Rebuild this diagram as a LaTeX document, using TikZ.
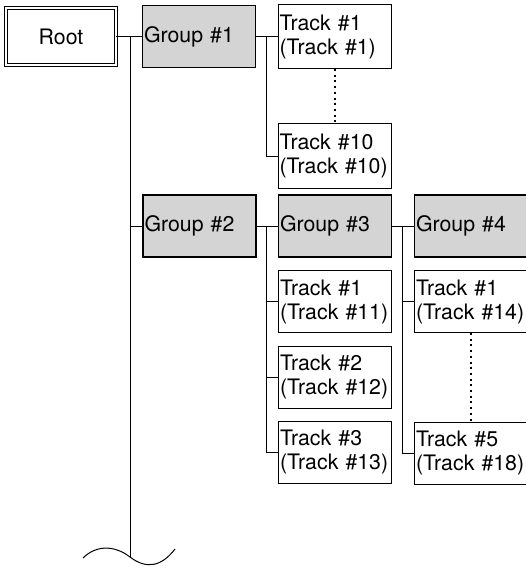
\documentclass[tikz,border=0pt]{standalone}
\usepackage{fontspec}
\setmainfont{TeX Gyre Heros}
\usetikzlibrary{positioning}
\definecolor{groupgray}{gray}{0.83}

\begin{document}
\begin{tikzpicture}[
    x=1pt, y=-1pt,
    font=\fontsize{21.3}{24}\selectfont,
    box/.style={draw, minimum height=62pt, inner xsep=1.5pt, inner ysep=0pt, text width=110pt, align=left},
    rootbox/.style={draw, double, double distance=2.5pt, line width=0.9pt, minimum width=110pt, minimum height=57pt},
    groupbox/.style={box, fill=groupgray, line width=1.6pt},
    trackbox/.style={box, line width=1pt},
    link/.style={line width=1pt},
    dots/.style={line width=2pt, dash pattern=on 2pt off 3.7pt}
]
    \useasboundingbox (0,0) rectangle (526,568);

    % first row
    \node[rootbox] (Root) at (61,36.5) {Root};
    \node[groupbox] (G1) at (199,36.5) {Group~\#1};
    \node[trackbox, minimum height=64pt] (T1) at (334.5,36.5) {Track~\#1\\(Track~\#1)};
    \node[trackbox, minimum height=65pt] (T10) at (334.5,156) {Track~\#10\\(Track~\#10)};

    % second row
    \node[groupbox] (G2) at (199.5,226) {Group~\#2};
    \node[groupbox] (G3) at (335,226) {Group~\#3};
    \node[groupbox] (G4) at (471,226) {Group~\#4};
    \node[trackbox] (T11) at (335,301.5) {Track~\#1\\(Track~\#11)};
    \node[trackbox] (T12) at (335,377) {Track~\#2\\(Track~\#12)};
    \node[trackbox] (T13) at (335,452) {Track~\#3\\(Track~\#13)};
    \node[trackbox] (T14) at (471,301.5) {Track~\#1\\(Track~\#14)};
    \node[trackbox] (T18) at (471,453) {Track~\#5\\(Track~\#18)};

    % buses
    \coordinate (rootbus) at (130,36.5);
    \coordinate (wave) at (130,557);
    \coordinate (bus1) at (266,36.5);
    \coordinate (bus2) at (266,226);
    \coordinate (bus3) at (402,226);

    \draw[link] (Root) -- (G1);
    \draw[link] (rootbus) -- (wave);
    \draw[link] (rootbus |- G2.west) -- (G2.west);
    \draw[link] (83,558) .. controls (95,546) and (113,544) .. (wave) .. controls (147,570) and (162,566) .. (175,549);

    \draw[link] (G1) -- (T1);
    \draw[link] (bus1) |- (T10.west);
    \draw[dots] (T1.south) -- (T10.north);

    \draw[link] (G2) -- (G3);
    \foreach \t in {T11,T12,T13}
        \draw[link] (bus2) |- (\t.west);

    \draw[link] (G3) -- (G4);
    \foreach \t in {T14,T18}
        \draw[link] (bus3) |- (\t.west);
    \draw[dots] (T14.south) -- (T18.north);
\end{tikzpicture}
\end{document}
